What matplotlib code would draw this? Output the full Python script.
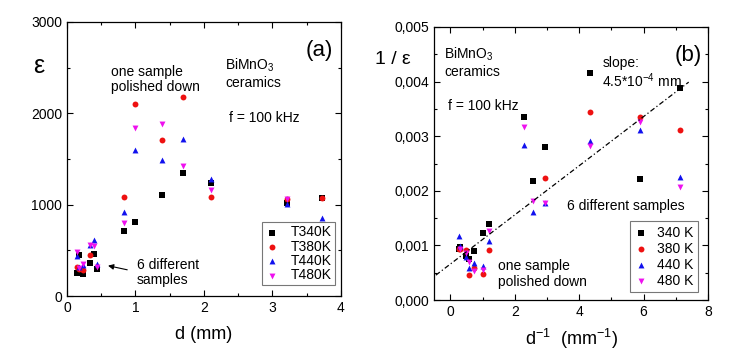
import matplotlib
matplotlib.use('Agg')
import matplotlib.pyplot as plt
import numpy as np
from matplotlib.ticker import MultipleLocator, FuncFormatter

plt.rcParams['font.family'] = ['Liberation Sans', 'DejaVu Sans']
plt.rcParams['mathtext.fontset'] = 'custom'
plt.rcParams['mathtext.rm'] = 'Liberation Sans'
plt.rcParams['mathtext.it'] = 'Liberation Sans:italic'
plt.rcParams['font.size'] = 10

# sample thickness d (mm) and permittivity, one list per temperature
d_340 = [0.14, 0.17, 0.23, 0.34, 0.39, 0.44, 0.83, 1.0, 1.39, 1.70, 2.10, 3.21, 3.73]
eps_340 = [258, 452, 241, 358, 457, 299, 716, 814, 1106, 1345, 1240, 1022, 1070]
d_380 = [0.14, 0.17, 0.23, 0.34, 0.83, 1.0, 1.39, 1.70, 2.10, 3.21, 3.73]
eps_380 = [321, 298, 291, 448, 1088, 2100, 1709, 2183, 1088, 1062, 1077]
d_440 = [0.14, 0.17, 0.23, 0.34, 0.39, 0.44, 0.83, 1.0, 1.39, 1.70, 2.10, 3.21, 3.73]
eps_440 = [442, 321, 344, 562, 617, 352, 923, 1600, 1490, 1720, 1280, 1007, 858]
d_480 = [0.14, 0.17, 0.23, 0.34, 0.39, 0.44, 0.83, 1.0, 1.39, 1.70, 2.10, 3.21]
eps_480 = [485, 306, 355, 562, 552, 316, 796, 1840, 1881, 1424, 1161, 1062]

temps_a = ['T340K', 'T380K', 'T440K', 'T480K']
temps_b = ['340 K', '380 K', '440 K', '480 K']
colors = ['black', '#ee1111', '#1111ee', '#ee11ee']
markers = ['s', 'o', '^', 'v']

# linear fit shown in panel (b)
fit_slope = 4.5e-4
fit_intercept = 0.66e-3
fit_range = [-0.45, 7.4]

series = [(d_340, eps_340), (d_380, eps_380), (d_440, eps_440), (d_480, eps_480)]

fig = plt.figure(figsize=(7.36, 3.59), dpi=100)
ax1 = fig.add_axes([0.091, 0.175, 0.372, 0.764])
ax2 = fig.add_axes([0.590, 0.164, 0.372, 0.761])


def style(ax):
    ax.tick_params(which='both', direction='in', top=True, right=True, labelsize=10)
    ax.tick_params(which='major', length=4, width=0.8)
    ax.tick_params(which='minor', length=2.5, width=0.8)
    for s in ax.spines.values():
        s.set_linewidth(0.9)


# panel (a)
for (d, e), lab, c, m in zip(series, temps_a, colors, markers):
    ax1.scatter(d, e, s=18, c=c, marker=m, label=lab, linewidths=0)
ax1.set_xlim(0, 4)
ax1.set_ylim(0, 3000)
ax1.xaxis.set_major_locator(MultipleLocator(1))
ax1.xaxis.set_minor_locator(MultipleLocator(0.5))
ax1.yaxis.set_major_locator(MultipleLocator(1000))
ax1.yaxis.set_minor_locator(MultipleLocator(500))
style(ax1)
ax1.set_xlabel('d (mm)', fontsize=13, labelpad=8)
ax1.text(-0.105, 0.84, 'ε', transform=ax1.transAxes, fontsize=18, ha='center', va='center')
ax1.text(3.69, 2690, '(a)', fontsize=16, ha='center', va='center')
ax1.text(0.65, 2370, 'one sample\npolished down', fontsize=10, va='center', linespacing=1.15)
ax1.text(2.31, 2440, 'BiMnO$_3$\nceramics', fontsize=10, va='center', linespacing=1.15)
ax1.text(2.37, 1950, 'f = 100 kHz', fontsize=10, va='center')
ax1.text(1.02, 260, '6 different\nsamples', fontsize=10, va='center', linespacing=1.15)
ax1.annotate('', xy=(0.56, 340), xytext=(0.92, 282),
             arrowprops=dict(arrowstyle='-|>', color='black', lw=0.8, mutation_scale=8))
leg1 = ax1.legend(loc='lower right', bbox_to_anchor=(0.98, 0.04), borderaxespad=0,
                  fancybox=False, edgecolor='#555555', handletextpad=0.8,
                  handlelength=1.1, labelspacing=0.02, borderpad=0.22, fontsize=10,
                  scatterpoints=1)
leg1.get_frame().set_linewidth(0.8)

# panel (b)
for (d, e), lab, c, m in zip(series, temps_b, colors, markers):
    ax2.scatter(1 / np.array(d), 1 / np.array(e), s=18, c=c, marker=m, label=lab, linewidths=0)
fx = np.array(fit_range)
ax2.plot(fx, fit_intercept + fit_slope * fx, color='black', lw=0.9, ls='-.', dashes=(4, 2, 1, 2))
ax2.set_xlim(-0.5, 8)
ax2.set_ylim(0, 0.005)
ax2.xaxis.set_major_locator(MultipleLocator(2))
ax2.xaxis.set_minor_locator(MultipleLocator(1))
ax2.yaxis.set_major_locator(MultipleLocator(0.001))
ax2.yaxis.set_minor_locator(MultipleLocator(0.0005))
ax2.yaxis.set_major_formatter(FuncFormatter(lambda v, p: f'{v:.3f}'.replace('.', ',')))
style(ax2)
ax2.set_xlabel('d$^{-1}$  (mm$^{-1}$)', fontsize=13, labelpad=6)
ax2.text(-0.15, 0.88, '1 / ε', transform=ax2.transAxes, fontsize=14, ha='center', va='center')
ax2.text(7.38, 0.00447, '(b)', fontsize=16, ha='center', va='center')
ax2.text(-0.19, 0.00435, 'BiMnO$_3$\nceramics', fontsize=10, va='center', linespacing=1.15)
ax2.text(-0.06, 0.00356, 'f = 100 kHz', fontsize=10, va='center')
ax2.text(4.72, 0.00434, 'slope:', fontsize=10, va='center')
ax2.text(4.72, 0.00401, '4.5*10$^{-4}$ mm', fontsize=10, va='center')
ax2.text(3.63, 0.00172, '6 different samples', fontsize=10, va='center')
ax2.text(1.49, 0.00048, 'one sample\npolished down', fontsize=10, va='center', linespacing=1.15)
leg2 = ax2.legend(loc='lower right', bbox_to_anchor=(0.963, 0.03), borderaxespad=0,
                  fancybox=False, edgecolor='#555555', handletextpad=0.6,
                  handlelength=1.1, labelspacing=0.15, borderpad=0.3, fontsize=10,
                  scatterpoints=1)
leg2.get_frame().set_linewidth(0.8)

fig.savefig('out.png', dpi=100)
